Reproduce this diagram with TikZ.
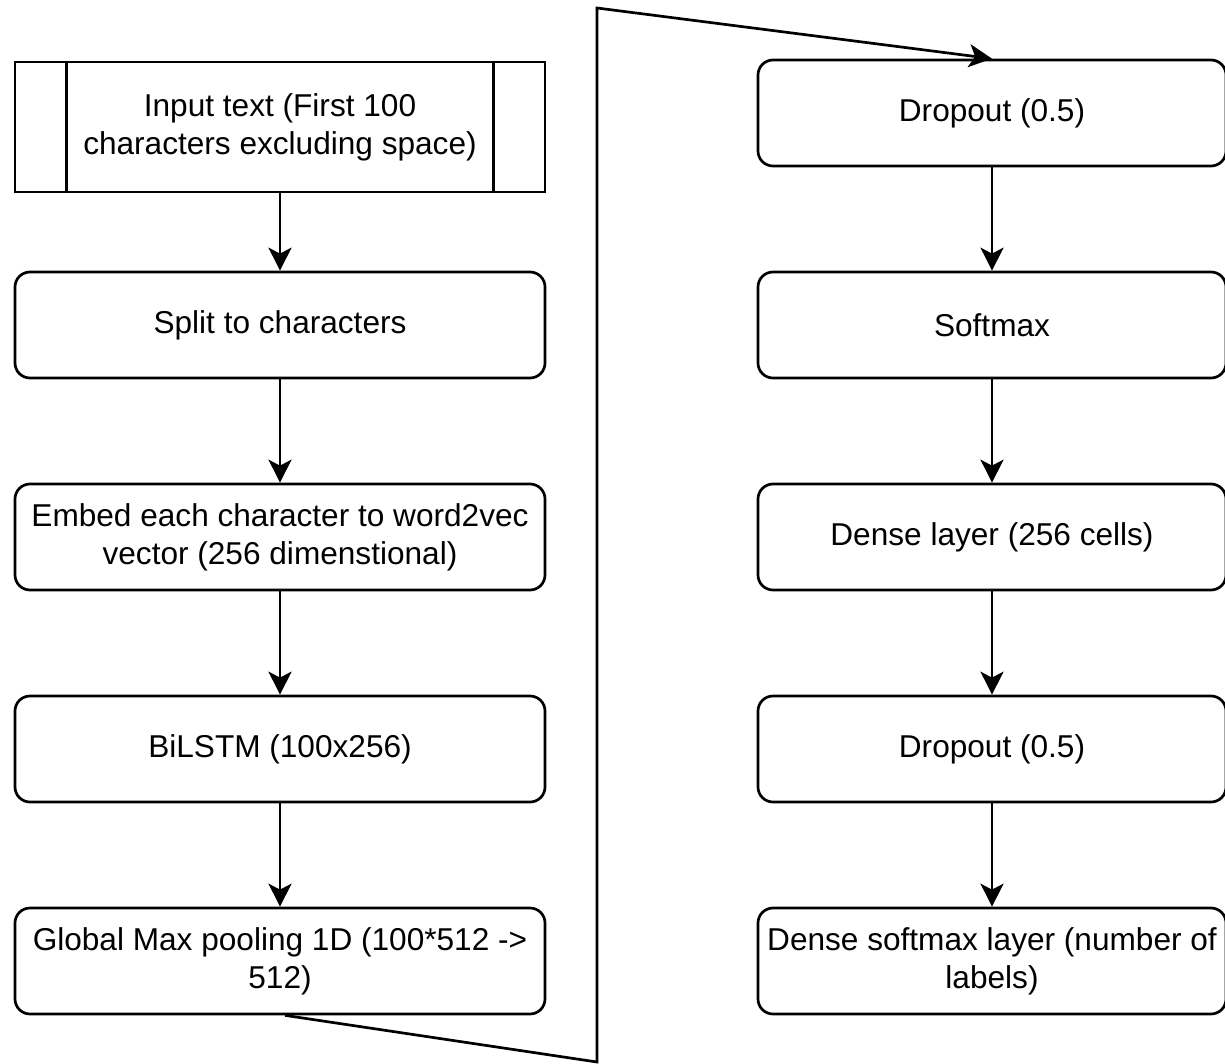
\documentclass[tikz,border=0pt]{standalone}
\usepackage{fontspec}
\setmainfont{Liberation Sans}
\usetikzlibrary{arrows.meta}

\begin{document}
\begin{tikzpicture}[x=0.5pt,y=-0.5pt,line width=1.35pt,
    box/.style={draw,rounded corners=7.5pt,align=center,inner sep=0pt,
      minimum width=265pt,minimum height=53pt,font=\fontsize{15.8}{19}\selectfont},
    rbox/.style={box,minimum width=234pt},
    >={Stealth[length=11.5pt,width=11.5pt,inset=3pt]}]
    \useasboundingbox (0,0) rectangle (1225,1064);

    % left column
    \node[box,rounded corners=0pt,minimum height=65pt] (inp) at (280,127) {Input text (First 100\\characters excluding space)};
    \draw ([xshift=26.5pt]inp.north west) -- ([xshift=26.5pt]inp.south west);
    \draw ([xshift=-26.5pt]inp.north east) -- ([xshift=-26.5pt]inp.south east);
    \node[box] (split) at (280,325) {Split to characters};
    \node[box] (embed) at (280,537) {Embed each character to word2vec\\vector (256 dimenstional)};
    \node[box] (lstm) at (280,749) {BiLSTM (100x256)};
    \node[box] (pool) at (280,961) {Global Max pooling 1D (100*512 ->\\512)};
    \draw[->] (inp) -- (split);
    \draw[->] (split) -- (embed);
    \draw[->] (embed) -- (lstm);
    \draw[->] (lstm) -- (pool);

    % right column
    \node[rbox] (drop1) at (992,113) {Dropout (0.5)};
    \node[rbox] (soft) at (992,325) {Softmax};
    \node[rbox] (dense) at (992,537) {Dense layer (256 cells)};
    \node[rbox] (drop2) at (992,749) {Dropout (0.5)};
    \node[rbox] (out) at (992,961) {Dense softmax layer (number of\\labels)};
    \draw[->] (drop1) -- (soft);
    \draw[->] (soft) -- (dense);
    \draw[->] (dense) -- (drop2);
    \draw[->] (drop2) -- (out);

    % link between the columns
    \coordinate (low) at (597,1062);
    \coordinate (high) at (597,8);
    \draw[->] ([xshift=2.5pt]pool.south) -- (low) -- (high) -- (drop1.north);
\end{tikzpicture}
\end{document}
